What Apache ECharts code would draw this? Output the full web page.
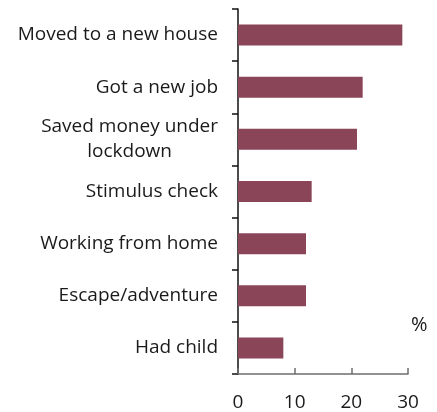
<!DOCTYPE html>
<html>
<head>
<meta charset="utf-8">
<script src="https://cdn.jsdelivr.net/npm/echarts@6/dist/echarts.min.js"></script>
<style>
  html, body { margin: 0; padding: 0; background: #fff; }
  #chart { width: 437px; height: 412px; }
</style>
</head>
<body>
<div id="chart"></div>
<script>
// Reasons given, listed top to bottom
const categories = [
  'Moved to a new house',
  'Got a new job',
  'Saved money under\nlockdown',
  'Stimulus check',
  'Working from home',
  'Escape/adventure',
  'Had child'
];
// Share of respondents, %
const values = [29, 22, 21, 13, 12, 12, 8];
const xTicks = [0, 10, 20, 30];

const FONT = '"Open Sans", "Noto Sans", sans-serif';
const TEXT = '#1a1a1a';
const chart = echarts.init(document.getElementById('chart'), null, { renderer: 'canvas' });

chart.setOption({
  animation: false,
  grid: { left: 238, right: 29, top: 9, bottom: 37, containLabel: false },
  xAxis: {
    type: 'value',
    min: xTicks[0],
    max: xTicks[xTicks.length - 1],
    interval: 10,
    splitLine: { show: false },
    axisLine: { show: true, lineStyle: { color: '#6e6e6e', width: 1.5 } },
    axisTick: { show: true, inside: true, length: 6, lineStyle: { color: '#6e6e6e', width: 1.5 } },
    axisLabel: { color: TEXT, fontFamily: FONT, fontSize: 19, margin: 19 }
  },
  yAxis: {
    type: 'category',
    inverse: true,
    data: categories,
    axisLine: { show: true, lineStyle: { color: '#111', width: 1.5 } },
    axisTick: { show: true, length: 6, lineStyle: { color: '#111', width: 1.5 } },
    axisLabel: {
      color: TEXT,
      fontFamily: FONT,
      fontSize: 19,
      margin: 20,
      lineHeight: 25,
      formatter: v => '{c|' + v + '}',
      rich: { c: { align: 'center', fontFamily: FONT, fontSize: 19, lineHeight: 25, color: TEXT } }
    }
  },
  series: [{
    type: 'bar',
    data: values,
    barWidth: 21,
    itemStyle: { color: '#8b4558' },
    z: 1
  }],
  graphic: [{
    type: 'text',
    left: 411,
    top: 315,
    style: { text: '%', fontFamily: FONT, fontSize: 20, fill: TEXT }
  }]
});
</script>
</body>
</html>
